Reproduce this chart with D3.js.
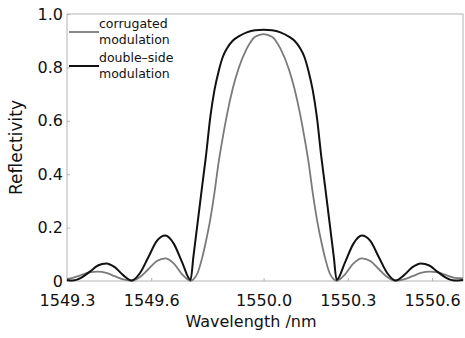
<!DOCTYPE html>
<html>
<head>
<meta charset="utf-8">
<script src="https://cdn.jsdelivr.net/npm/d3@7"></script>
<style>
  body { margin: 0; background: #fff; }
  text { fill: #111; }
</style>
</head>
<body>
<svg id="chart" width="465" height="338"></svg>
<script>
// wavelength samples (nm)
const wavelength = [
    1549.30, 1549.32, 1549.35, 1549.38, 1549.41, 1549.44, 1549.47, 1549.50, 1549.53, 1549.56,
    1549.59, 1549.62, 1549.65, 1549.68, 1549.71, 1549.74, 1549.75, 1549.765, 1549.78, 1549.795,
    1549.81, 1549.825, 1549.84, 1549.855, 1549.87, 1549.89, 1549.91, 1549.94, 1549.97, 1550.00,
    1550.03, 1550.06, 1550.09, 1550.11, 1550.13, 1550.145, 1550.16, 1550.175, 1550.19, 1550.205,
    1550.22, 1550.235, 1550.25, 1550.26, 1550.29, 1550.32, 1550.35, 1550.38, 1550.41, 1550.44,
    1550.47, 1550.50, 1550.53, 1550.56, 1550.59, 1550.62, 1550.65, 1550.68, 1550.71
];

// corrugated modulation (gray)
const corrugated = [
    0.008, 0.012, 0.022, 0.032, 0.035, 0.030, 0.018, 0.006, 0.001, 0.015,
    0.045, 0.075, 0.085, 0.066, 0.025, 0.001, 0.006, 0.030, 0.082, 0.150,
    0.230, 0.330, 0.445, 0.540, 0.625, 0.720, 0.793, 0.870, 0.915, 0.925,
    0.915, 0.870, 0.793, 0.720, 0.625, 0.540, 0.445, 0.330, 0.230, 0.150,
    0.082, 0.030, 0.006, 0.001, 0.025, 0.066, 0.085, 0.075, 0.045, 0.015,
    0.001, 0.006, 0.018, 0.030, 0.035, 0.032, 0.022, 0.012, 0.010
];

// double-side modulation (black)
const doubleSide = [
    0.004, 0.002, 0.012, 0.034, 0.058, 0.066, 0.052, 0.022, 0.002, 0.030,
    0.090, 0.150, 0.170, 0.140, 0.070, 0.004, 0.090, 0.218, 0.345, 0.470,
    0.612, 0.715, 0.786, 0.840, 0.872, 0.900, 0.915, 0.931, 0.939, 0.941,
    0.939, 0.931, 0.915, 0.900, 0.872, 0.840, 0.786, 0.715, 0.612, 0.470,
    0.345, 0.218, 0.090, 0.004, 0.070, 0.140, 0.170, 0.150, 0.090, 0.030,
    0.002, 0.022, 0.052, 0.066, 0.058, 0.034, 0.012, 0.002, 0.004
];

const xTicks = [1549.3, 1549.6, 1550.0, 1550.3, 1550.6];
const xTickLabels = ["1549.3", "1549.6", "1550.0", "1550.3", "1550.6"];
const yTicks = [0, 0.2, 0.4, 0.6, 0.8, 1.0];
const yTickLabels = ["0", "0.2", "0.4", "0.6", "0.8", "1.0"];

const svg = d3.select("#chart"),
    margin = { top: 14, right: 2, bottom: 57, left: 67 },
    width = +svg.attr("width") - margin.left - margin.right,
    height = +svg.attr("height") - margin.top - margin.bottom,
    chart = svg.append("g").attr("transform", `translate(${margin.left},${margin.top})`);

const x = d3.scaleLinear().domain([1549.3, 1550.71]).range([0, width]);
const y = d3.scaleLinear().domain([0, 1]).range([height, 0]);

const axisColor = "#b4b4b4";
const font = "'DejaVu Sans', sans-serif";

// x axis, ticks point inward
const xAxis = chart.append("g")
    .attr("transform", `translate(0,${height})`)
    .call(d3.axisBottom(x)
        .tickValues(xTicks)
        .tickFormat((d, i) => xTickLabels[i])
        .tickSizeInner(-3)
        .tickSizeOuter(0)
        .tickPadding(14));
xAxis.select(".domain").remove();
xAxis.selectAll("line").attr("stroke", axisColor);
xAxis.selectAll("text").style("font-size", "16px").style("font-family", font).attr("fill", "#111");

const yAxis = chart.append("g")
    .call(d3.axisLeft(y)
        .tickValues(yTicks)
        .tickFormat((d, i) => yTickLabels[i])
        .tickSizeInner(-3)
        .tickSizeOuter(0)
        .tickPadding(4));
yAxis.select(".domain").remove();
yAxis.selectAll("line").attr("stroke", axisColor);
yAxis.selectAll("text").style("font-size", "16px").style("font-family", font).attr("fill", "#111");

// frame
chart.append("rect")
    .attr("width", width)
    .attr("height", height)
    .attr("fill", "none")
    .attr("stroke", axisColor)
    .attr("stroke-width", 1);

const rows = wavelength.map((w, i) => ({ w: w, c: corrugated[i], d: doubleSide[i] }));

const lineC = d3.line().x(r => x(r.w)).y(r => y(r.c)).curve(d3.curveMonotoneX);
const lineD = d3.line().x(r => x(r.w)).y(r => y(r.d)).curve(d3.curveMonotoneX);

chart.append("path")
    .datum(rows)
    .attr("d", lineC)
    .attr("fill", "none")
    .attr("stroke", "#7a7a7a")
    .attr("stroke-width", 1.8);

chart.append("path")
    .datum(rows)
    .attr("d", lineD)
    .attr("fill", "none")
    .attr("stroke", "#111")
    .attr("stroke-width", 2);

// legend
const legend = [
    { lines: ["corrugated", "modulation"], color: "#7a7a7a", y: 18 },
    { lines: ["double\u2013side", "modulation"], color: "#111", y: 52 }
];
const lg = chart.selectAll(".legend")
    .data(legend)
    .join("g")
    .attr("class", "legend")
    .attr("transform", d => `translate(2,${d.y})`);
lg.append("line")
    .attr("x1", 0).attr("x2", 30)
    .attr("y1", 0).attr("y2", 0)
    .attr("stroke", d => d.color)
    .attr("stroke-width", d => d.color === "#111" ? 2 : 1.8);
lg.append("text")
    .attr("y", -4)
    .style("font-size", "12.5px")
    .style("font-family", font)
    .selectAll("tspan")
    .data(d => d.lines)
    .join("tspan")
    .attr("x", 30)
    .attr("dy", (d, i) => i === 0 ? 0 : 16)
    .text(d => d);

// axis titles
svg.append("text")
    .attr("x", 251)
    .attr("y", 327)
    .attr("text-anchor", "middle")
    .style("font-size", "16px")
    .style("font-family", font)
    .text("Wavelength /nm");

svg.append("text")
    .attr("transform", `translate(22,${margin.top + height / 2}) rotate(-90)`)
    .attr("text-anchor", "middle")
    .style("font-size", "17px")
    .style("font-family", font)
    .text("Reflectivity");
</script>
</body>
</html>
